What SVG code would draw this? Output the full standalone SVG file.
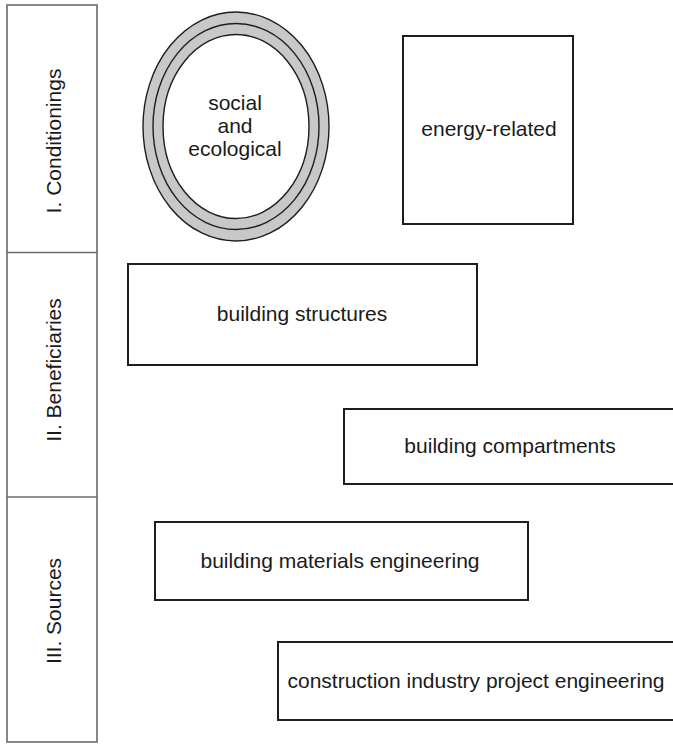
<svg xmlns="http://www.w3.org/2000/svg" width="673" height="744" viewBox="0 0 673 744">
<style>
.box{fill:#fff;stroke:#1e1e1e;stroke-width:2}
.col{fill:#fff;stroke:#6a6a6a;stroke-width:1.6}
.t{font-family:"Liberation Sans",Arial,sans-serif;font-size:21px;fill:#1a1a1a;text-anchor:middle}
.ring{fill:none;stroke:#1e1e1e;stroke-width:1.4}
</style>
<rect width="673" height="744" fill="#fff"/>
<g id="column">
<rect class="col" x="7" y="5" width="90" height="737"/>
<line class="col" x1="7" y1="252.5" x2="97" y2="252.5"/>
<line class="col" x1="7" y1="497" x2="97" y2="497"/>
<text class="t" transform="translate(61,141) rotate(-90)">I. Conditionings</text>
<text class="t" transform="translate(61,370) rotate(-90)">II. Beneficiaries</text>
<text class="t" transform="translate(61,611) rotate(-90)">III. Sources</text>
</g>
<g id="social">
<ellipse cx="236" cy="126.5" rx="93" ry="114.5" fill="#c8c8c8" stroke="#1e1e1e" stroke-width="1.4"/>
<ellipse class="ring" cx="236" cy="126.5" rx="83" ry="103"/>
<ellipse cx="236" cy="126.5" rx="73" ry="92" fill="#fff" stroke="#1e1e1e" stroke-width="1.4"/>
<text class="t" x="235" y="110">social</text>
<text class="t" x="235" y="133">and</text>
<text class="t" x="235" y="156">ecological</text>
</g>
<g id="energy">
<rect class="box" x="403" y="36" width="170" height="188"/>
<text class="t" x="489" y="136">energy-related</text>
</g>
<g id="structures">
<rect class="box" x="128" y="264" width="349" height="101"/>
<text class="t" x="302" y="321">building structures</text>
</g>
<g id="compartments">
<rect class="box" x="344" y="409" width="336" height="75"/>
<text class="t" x="510" y="453">building compartments</text>
</g>
<g id="materials">
<rect class="box" x="155" y="522" width="373" height="78"/>
<text class="t" x="340" y="568">building materials engineering</text>
</g>
<g id="construction">
<rect class="box" x="278" y="642" width="402" height="78"/>
<text class="t" x="476" y="688">construction industry project engineering</text>
</g>
<g id="connectors"/>
</svg>
